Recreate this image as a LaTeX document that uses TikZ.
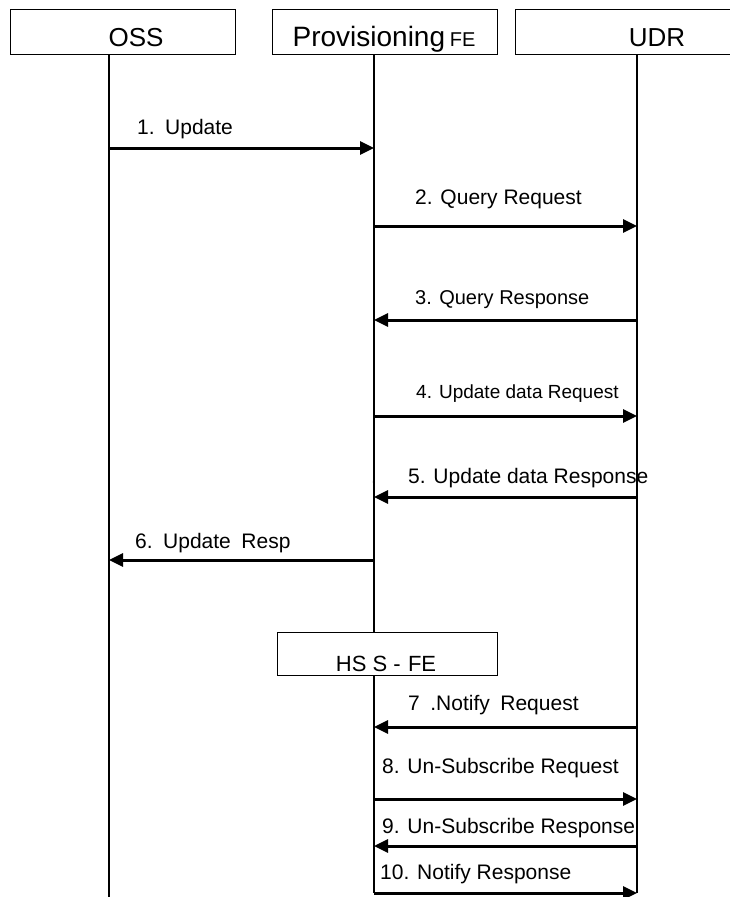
\documentclass[tikz,border=0pt]{standalone}
\usepackage{fontspec}
\setmainfont{Liberation Sans}
\usetikzlibrary{arrows.meta}
\tikzset{
  entity/.style={draw, line width=0.8pt, minimum width=225pt, minimum height=45pt,
    anchor=north west, inner sep=0pt},
  entname/.style={anchor=base, inner sep=0pt, font=\fontsize{26}{28}\selectfont},
  lifeline/.style={line width=1.2pt},
  msg/.style={line width=3pt, -{Triangle[length=14pt,width=13pt]}},
  msglabel/.style={anchor=base west, inner sep=0pt, font=\fontsize{21}{24}\selectfont},
}
\begin{document}
\begin{tikzpicture}[x=1pt,y=-1pt]
\useasboundingbox (0,0) rectangle (729,897);
% entities
\node[entity] (oss) at (10,9) {};
\node[entity] (prov) at (272,9) {};
\node[entity] (udr) at (515,9) {};
\node[entname] (ossname) at (136,46) {OSS};
\node[entname, font=\fontsize{28}{30}\selectfont] (provname) at (384,46) {Provisioning\,{\fontsize{20}{22}\selectfont FE}};
\node[entname] (udrname) at (657,46) {UDR};
\node[entity, minimum width=220pt, minimum height=43pt] (hss) at (277,632) {};
\node[entname, font=\fontsize{22}{24}\selectfont] (hssname) at (386,671) {HS S -\,\,FE};
% lifelines
\coordinate (ossend) at (109,897);
\coordinate (provend) at (374,893);
\coordinate (udrend) at (637,893);
\draw[lifeline] (oss.south -| ossend) -- (ossend);
\draw[lifeline] (prov.south -| provend) -- (hss.north -| provend);
\draw[lifeline] (hss.south -| provend) -- (provend);
\draw[lifeline] (udr.south -| udrend) -- (udrend);
% message points
\coordinate (o1) at (109,148); \coordinate (p1) at (374,148);
\coordinate (p2) at (374,226); \coordinate (u2) at (637,226);
\coordinate (p3) at (374,320); \coordinate (u3) at (637,320);
\coordinate (p4) at (374,416); \coordinate (u4) at (637,416);
\coordinate (p5) at (374,497); \coordinate (u5) at (637,497);
\coordinate (o6) at (109,560); \coordinate (p6) at (374,560);
\coordinate (p7) at (374,727); \coordinate (u7) at (637,727);
\coordinate (p8) at (374,799); \coordinate (u8) at (637,799);
\coordinate (p9) at (374,846); \coordinate (u9) at (637,846);
\coordinate (p10) at (374,893); \coordinate (u10) at (637,893);
% messages
\draw[msg] (o1) -- (p1);
\draw[msg] (p2) -- (u2);
\draw[msg] (u3) -- (p3);
\draw[msg] (p4) -- (u4);
\draw[msg] (u5) -- (p5);
\draw[msg] (p6) -- (o6);
\draw[msg] (u7) -- (p7);
\draw[msg] (p8) -- (u8);
\draw[msg] (u9) -- (p9);
\draw[msg] (p10) -- (u10);
% labels
\node[msglabel] (l1) at (137,134) {1.\enspace Update};
\node[msglabel] (l2) at (415,204) {2. Query Request};
\node[msglabel, font=\fontsize{20}{23}\selectfont] (l3) at (415,304) {3. Query Response};
\node[msglabel, font=\fontsize{19}{22}\selectfont] (l4) at (416,398) {4. Update data Request};
\node[msglabel] (l5) at (408,483) {5. Update data Response};
\node[msglabel] (l5dot) at (371,483) {.};
\node[msglabel] (l6) at (135,548) {6.\enspace Update\enspace Resp};
\node[msglabel] (l7) at (408,710) {7\enspace.Notify\enspace Request};
\node[msglabel] (l8) at (382,773) {8. Un-Subscribe Request};
\node[msglabel] (l9) at (382,833) {9. Un-Subscribe Response};
\node[msglabel] (l10) at (380,879) {10. Notify Response};
\end{tikzpicture}
\end{document}
